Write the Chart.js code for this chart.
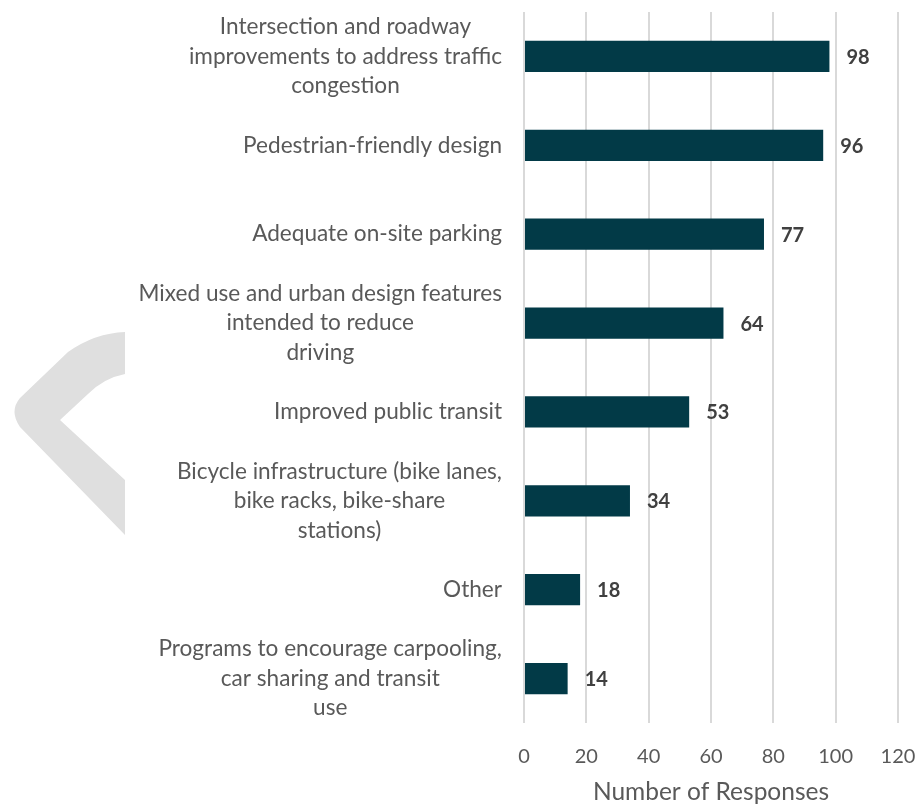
<!DOCTYPE html>
<html>
<head>
<meta charset="utf-8">
<script src="https://cdn.jsdelivr.net/npm/chart.js@4"></script>
<style>
  html, body { margin: 0; padding: 0; background: #ffffff; }
  #wrap { width: 919px; height: 806px; position: relative; }
</style>
</head>
<body>
<div id="wrap"><canvas id="c" width="919" height="806"></canvas></div>
<script>
const categories = [
  ["Intersection and roadway", "improvements to address traffic", "congestion"],
  ["Pedestrian-friendly design"],
  ["Adequate on-site parking"],
  ["Mixed use and urban design features", "intended to reduce", "driving"],
  ["Improved public transit"],
  ["Bicycle infrastructure (bike lanes,", "bike racks, bike-share", "stations)"],
  ["Other"],
  ["Programs to encourage carpooling,", "car sharing and transit", "use"]
];
const responses = [98, 96, 77, 64, 53, 34, 18, 14];
const xTicks = [0, 20, 40, 60, 80, 100, 120];
const xTitle = "Number of Responses";

const FONT = "Lato, 'Open Sans', sans-serif";
const TEXT = "#595959";

const chevron = {
  id: 'chevron',
  beforeDraw(chart) {
    const ctx = chart.ctx;
    ctx.save();
    ctx.beginPath();
    ctx.moveTo(125, 332);
    ctx.quadraticCurveTo(95, 333, 68, 352);
    ctx.lineTo(20, 398);
    ctx.quadraticCurveTo(9, 411, 20, 427);
    ctx.lineTo(125, 535);
    ctx.lineTo(125, 480);
    ctx.lineTo(60, 420);
    ctx.lineTo(88, 394);
    ctx.quadraticCurveTo(104, 378, 125, 374);
    ctx.closePath();
    ctx.fillStyle = "#dfdfdf";
    ctx.fill();
    ctx.restore();
  }
};

const catLabels = {
  id: 'catLabels',
  afterDraw(chart) {
    const ctx = chart.ctx;
    const y = chart.scales.y;
    ctx.save();
    ctx.font = "22.6px " + FONT;
    ctx.fillStyle = TEXT;
    ctx.textAlign = "center";
    ctx.textBaseline = "middle";
    const lh = 29.5;
    categories.forEach((lines, i) => {
      const cy = y.getPixelForValue(i);
      let w = 0;
      lines.forEach(l => { w = Math.max(w, ctx.measureText(l).width); });
      const cx = 502 - w / 2;
      const y0 = cy - (lines.length - 1) * lh / 2;
      lines.forEach((l, k) => ctx.fillText(l, cx, y0 + k * lh));
    });
    ctx.restore();
  }
};

const valueLabels = {
  id: 'valueLabels',
  afterDatasetsDraw(chart) {
    const ctx = chart.ctx;
    const meta = chart.getDatasetMeta(0);
    ctx.save();
    ctx.font = "bold 20px " + FONT;
    ctx.fillStyle = "#404040";
    ctx.textAlign = "left";
    ctx.textBaseline = "middle";
    meta.data.forEach((bar, i) => {
      ctx.fillText(String(responses[i]), bar.x + 17, bar.y + 1);
    });
    ctx.restore();
  }
};

new Chart(document.getElementById('c'), {
  type: 'bar',
  data: {
    labels: categories,
    datasets: [{
      data: responses,
      backgroundColor: "#023a47",
      borderWidth: 0,
      barPercentage: 0.44,
      categoryPercentage: 0.8
    }]
  },
  options: {
    indexAxis: 'y',
    responsive: false,
    animation: false,
    layout: { padding: { left: 524, right: 21, top: 12, bottom: 0 } },
    plugins: { legend: { display: false }, tooltip: { enabled: false } },
    scales: {
      y: { display: false },
      x: {
        min: xTicks[0],
        max: xTicks[xTicks.length - 1],
        afterBuildTicks(scale) { scale.ticks = xTicks.map(v => ({ value: v })); },
        afterFit(scale) { scale.height = 83; scale.paddingRight = 0; scale.paddingLeft = 0; },
        grid: { color: "#d9d9d9", lineWidth: 2, drawTicks: false },
        border: { display: false },
        ticks: { color: TEXT, font: { family: FONT, size: 20 }, padding: 22 },
        title: { display: true, text: xTitle, color: TEXT, font: { family: FONT, size: 24.5, lineHeight: 1.1 }, padding: { top: 0, bottom: 0 } }
      }
    }
  },
  plugins: [chevron, catLabels, valueLabels]
});
</script>
</body>
</html>
